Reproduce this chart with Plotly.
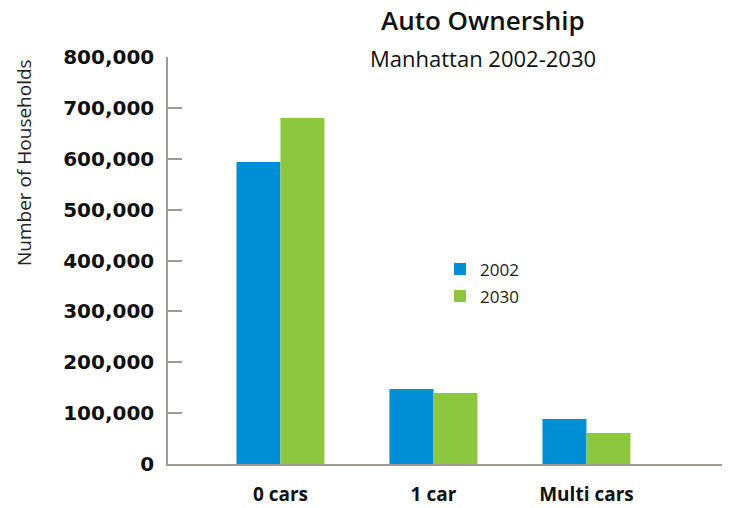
import plotly.graph_objects as go

categories = ["0 cars", "1 car", "Multi cars"]
series_names = ["2002", "2030"]
values_2002 = [593500, 147500, 88500]
values_2030 = [680000, 139500, 61000]
y_ticks = [0, 100000, 200000, 300000, 400000, 500000, 600000, 700000, 800000]
y_tick_labels = ["0", "100,000", "200,000", "300,000", "400,000", "500,000", "600,000", "700,000", "800,000"]

FONT = "Open Sans"
fig = go.Figure()
fig.add_trace(go.Bar(x=categories, y=values_2002, name=series_names[0], legendgroup="a",
                     marker=dict(color="#008FD5", line=dict(width=0))))
fig.add_trace(go.Bar(x=categories, y=values_2030, name=series_names[1], legendgroup="b",
                     marker=dict(color="#8DC63F", line=dict(width=0))))

fig.update_layout(
    width=737, height=508,
    margin=dict(l=168, r=15, t=57, b=44, autoexpand=False),
    plot_bgcolor="white", paper_bgcolor="white",
    barmode="group", bargap=0.425, bargroupgap=0,
    font=dict(family=FONT, color="#111111"),
    showlegend=True,
    legend=dict(x=0.491, y=0.445, xanchor="left", yanchor="middle", traceorder="grouped",
                font=dict(size=17, family=FONT, color="#222"), tracegroupgap=2,
                bgcolor="rgba(0,0,0,0)"),
    xaxis=dict(range=[-0.735, 2.886], showline=True, linecolor="#a09a96", linewidth=1.5,
               ticks="", tickfont=dict(size=19, family=FONT, color="#111", weight="bold"),
               ticklabelstandoff=12, showgrid=False, zeroline=False, automargin=False),
    yaxis=dict(range=[0, 800000], tickvals=y_ticks, ticktext=y_tick_labels,
               showline=True, linecolor="#a09a96", linewidth=1.5,
               ticks="inside", ticklen=14, tickcolor="#a09a96", tickwidth=1.5,
               tickfont=dict(size=20, family="DejaVu Sans", color="#111", weight="bold"),
               ticklabelstandoff=8, showgrid=False, zeroline=False, automargin=False),
    annotations=[
        dict(text="Auto Ownership", x=483, y=20, xref="paper", yref="paper", showarrow=False,
             font=dict(size=26, family=FONT, color="#111", weight=600)),
        dict(text="Manhattan 2002-2030", x=483, y=58, xref="paper", yref="paper", showarrow=False,
             font=dict(size=22, family=FONT, color="#111")),
        dict(text="Number of Households", x=24, y=163, xref="paper", yref="paper", showarrow=False,
             textangle=-90, font=dict(size=19, family=FONT, color="#222")),
    ],
)
# convert pixel annotation positions to paper coordinates
pw = 737 - 168 - 15
ph = 508 - 57 - 44
for a in fig.layout.annotations:
    px, py = a.x, a.y
    a.x = (px - 168) / pw
    a.y = 1 - (py - 57) / ph
    a.xanchor = "center"
    a.yanchor = "middle"

fig.write_html("out.html", config={"displayModeBar": False},
               post_script="document.body.style.margin='0';")
